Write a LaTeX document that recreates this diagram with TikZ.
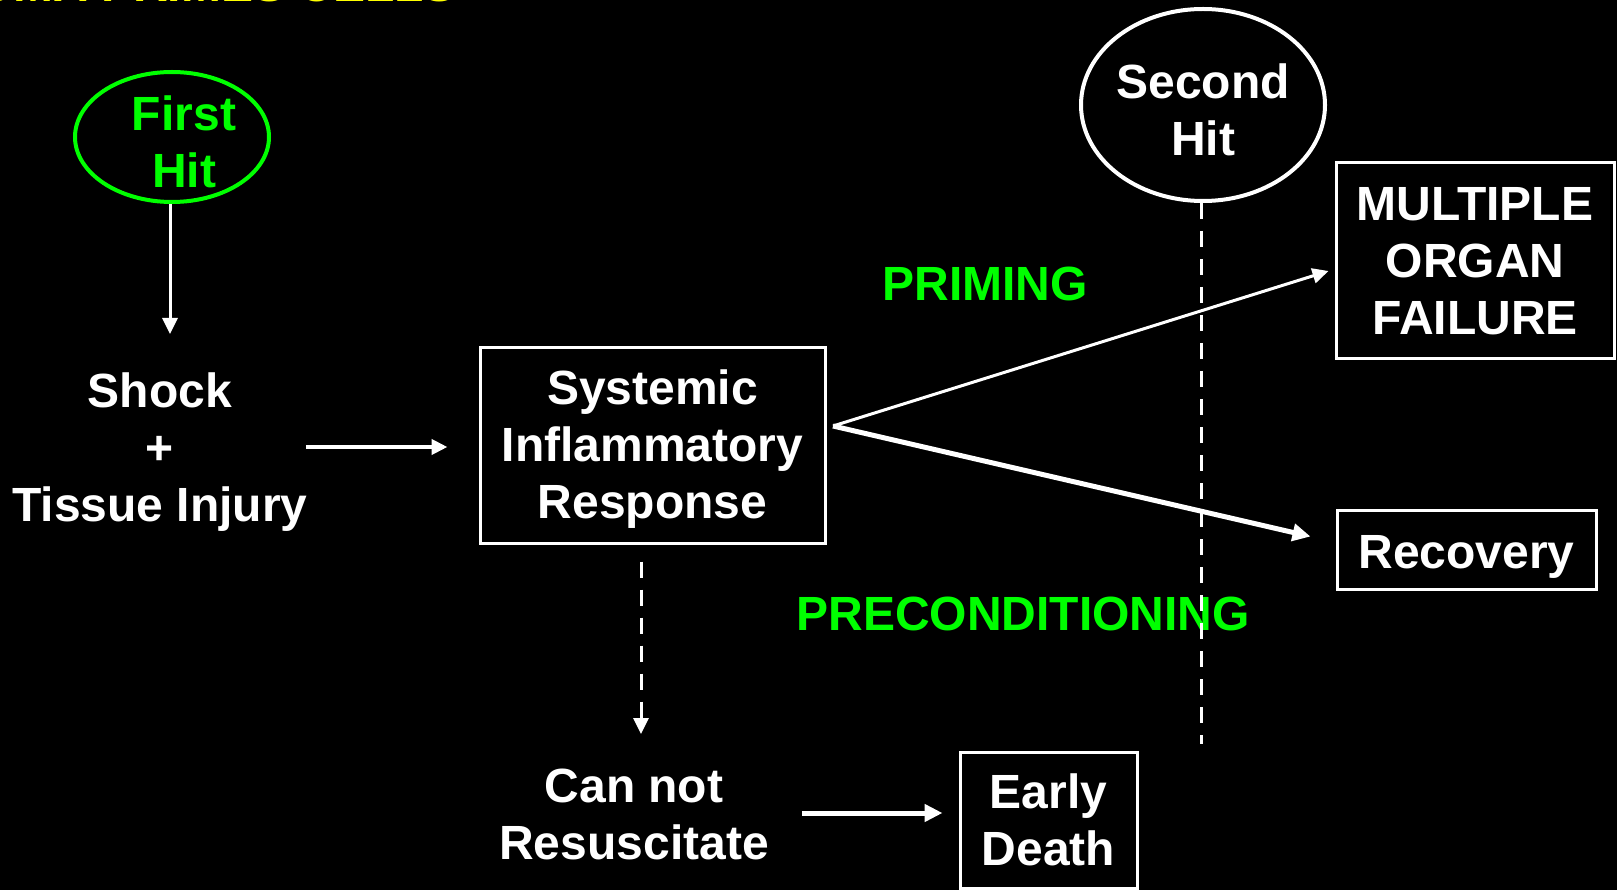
\documentclass[tikz,border=0pt]{standalone}
\usepackage{fontspec}
\setmainfont{Liberation Sans}
\usetikzlibrary{arrows.meta,calc,shapes.geometric}
\definecolor{hitgreen}{RGB}{0,255,0}
\definecolor{titleyellow}{RGB}{255,255,0}
\begin{document}
\begin{tikzpicture}[x=1pt,y=1pt,
  every node/.style={font=\bfseries\fontsize{48}{57}\selectfont, text=white, align=center, inner sep=0pt},
  every label/.style={font=\bfseries\fontsize{48}{57}\selectfont, text=white, align=center, inner sep=0pt},
  plain/.style={},
  framed/.style={draw=white, line width=3pt},
  hitoval/.style={ellipse, draw=white, line width=4pt},
  link/.style={draw=white, line width=3pt, -{Triangle[length=16pt,width=15pt]}},
  boldlink/.style={draw=white, line width=5pt, -{Triangle[length=18pt,width=17pt]}},
  phase/.style={text=hitgreen},
  stroke/.style={draw=white, line width=3pt, dash pattern=on 16pt off 12pt}]
\useasboundingbox (0,0) rectangle (1617,-890);
\fill[black] (0,0) rectangle (1617,-890);
\clip (0,0) rectangle (1617,-890);

% title line, cut by the top edge
\node[anchor=base east, text=titleyellow] (title) at (456,-2) {TRAUMA PRIMES CELLS};

% first hit and its consequence
\node[hitoval, draw=hitgreen, minimum width=194pt, minimum height=130pt,
      label={[text=hitgreen, xshift=12pt, yshift=-5pt]center:{First\\Hit}}] (first) at (172,-137) {};
\node[plain] (shock) at (160,-452) {Shock\\+\\Tissue Injury};
\node[framed, minimum width=345pt, minimum height=195pt,
      label={[yshift=-4pt]center:{Systemic\\Inflammatory\\Response}}] (sirs) at (652.5,-445.5) {};

% second hit with its time marker
\node[hitoval, minimum width=244pt, minimum height=192pt,
      label={[yshift=-5pt]center:{Second\\Hit}}] (second) at (1203,-105) {};
\coordinate (markerend) at (1201,-744);

% outcomes
\node[framed, minimum width=278pt, minimum height=196pt] (mof) at (1475,-261) {MULTIPLE\\ORGAN\\FAILURE};
\node[framed, minimum width=259pt, minimum height=79pt,
      label={[yshift=-7pt]center:Recovery}] (recovery) at (1466.5,-549.5) {};
\node[plain] (cannot) at (634,-814) {Can not\\Resuscitate};
\node[framed, minimum width=177pt, minimum height=136pt] (early) at (1048.5,-820) {Early\\Death};

% phase labels
\node[phase] (priming) at (985,-284) {PRIMING};
\node[phase] (precond) at (1023,-614) {PRECONDITIONING};

% connectors
\coordinate (split) at (833,-426);
\coordinate (fallend) at (641,-734);
\draw[stroke] ([xshift=-2pt]second.south) -- (markerend);
\draw[link] ([xshift=-2pt]first.south) -- ++(0,-130);
\draw[link, line width=4pt, shorten <=-2pt, shorten >=31pt] ([yshift=5pt]shock.east) -- ([yshift=5pt]shock.east -| sirs.west);
\draw[link] (split) -- ($(mof.west)+(-6,-10)$);
\draw[boldlink] (split) -- ($(recovery.west)+(-25,13)$);
\draw[link, dash pattern=on 16pt off 12pt] ([xshift=-11.5pt,yshift=-17pt]sirs.south) -- (fallend);
\draw[boldlink, shorten <=33pt, shorten >=16pt] ([yshift=1pt]cannot.east) -- ([yshift=1pt]cannot.east -| early.west);
\end{tikzpicture}
\end{document}
